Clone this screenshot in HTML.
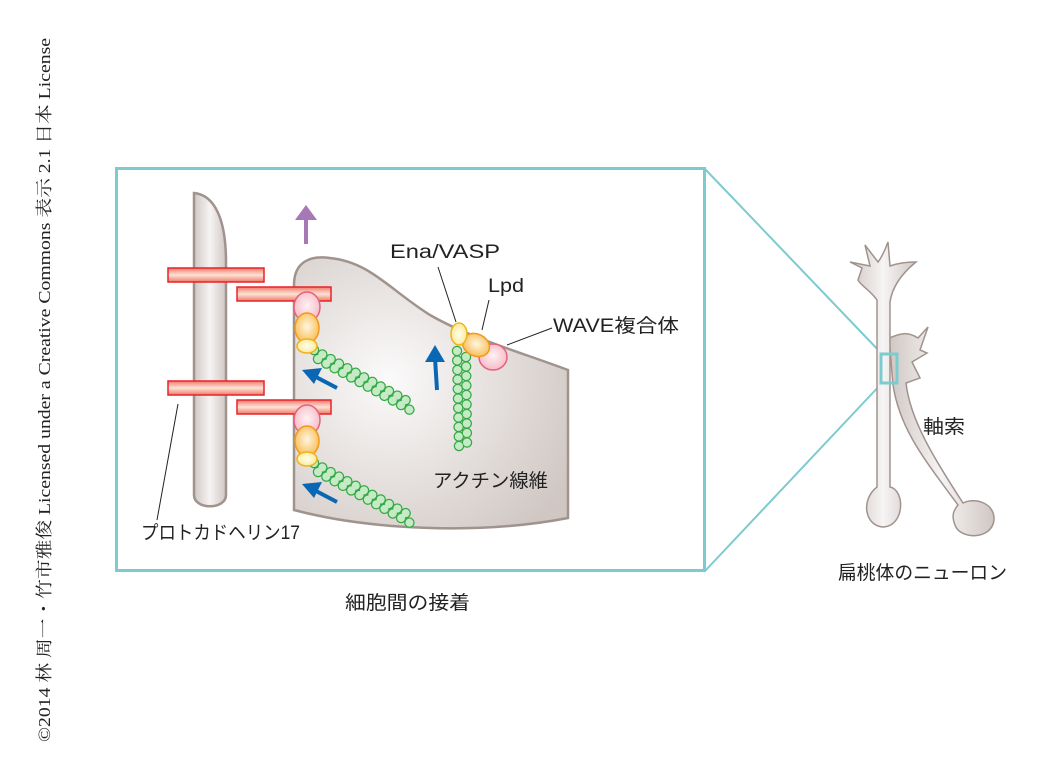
<!DOCTYPE html>
<html><head><meta charset="utf-8"><style>
html,body{margin:0;padding:0;background:#fff;}
svg{display:block;font-family:"Liberation Sans","Noto Sans CJK JP",sans-serif;}
</style></head><body>
<svg width="1044" height="780" viewBox="0 0 1044 780" xmlns="http://www.w3.org/2000/svg">
<defs>
<radialGradient id="cg" cx="0.35" cy="0.45" r="0.75">
<stop offset="0" stop-color="#fbfafa"/><stop offset="1" stop-color="#d0c7c3"/></radialGradient>
<linearGradient id="lg" x1="0" y1="0" x2="1" y2="0">
<stop offset="0" stop-color="#d0c7c3"/><stop offset="0.5" stop-color="#f6f4f4"/><stop offset="1" stop-color="#d0c7c3"/></linearGradient>
<linearGradient id="rb" x1="0" y1="0" x2="0" y2="1">
<stop offset="0" stop-color="#f07a6a"/><stop offset="0.5" stop-color="#fde3d6"/><stop offset="1" stop-color="#ee7a68"/></linearGradient>
<radialGradient id="pk" cx="0.5" cy="0.45" r="0.6"><stop offset="0" stop-color="#fff2f4"/><stop offset="1" stop-color="#f5b6c3"/></radialGradient>
<radialGradient id="or" cx="0.5" cy="0.45" r="0.6"><stop offset="0" stop-color="#fff6e0"/><stop offset="1" stop-color="#f8b94d"/></radialGradient>
<radialGradient id="yl" cx="0.5" cy="0.5" r="0.6"><stop offset="0" stop-color="#fffef0"/><stop offset="1" stop-color="#fbe78a"/></radialGradient>
</defs>

<text transform="translate(50,742) rotate(-90)" font-family="Liberation Serif,'Noto Serif CJK SC',serif" font-size="17" textLength="704" lengthAdjust="spacingAndGlyphs" fill="#222">©2014 林 周一・竹市雅俊 Licensed under a Creative Commons 表示 2.1 日本 License</text>

<!-- zoom lines -->
<line x1="705" y1="169" x2="883" y2="355" stroke="#7ccbcf" stroke-width="2"/>
<line x1="705" y1="571" x2="883" y2="382" stroke="#7ccbcf" stroke-width="2"/>

<!-- left cell -->
<path d="M194,193 C215,195 226,220 226,262 L226,495 C226,510 194,510 194,495 Z" fill="url(#lg)" stroke="#a0938e" stroke-width="2.5"/>
<!-- right cell -->
<path d="M294,510 L294,285 C294,262 310,255 330,258 C370,262 390,290 430,315 C470,338 520,352 568,370 L568,518 C480,535 370,530 294,510 Z" fill="url(#cg)" stroke="#a0938e" stroke-width="2.5"/>

<!-- red bars -->
<rect x="168" y="268" width="96" height="14" fill="url(#rb)" stroke="#e8232a" stroke-width="1.5"/>
<rect x="237" y="287" width="94" height="14" fill="url(#rb)" stroke="#e8232a" stroke-width="1.5"/>
<rect x="168" y="381" width="96" height="14" fill="url(#rb)" stroke="#e8232a" stroke-width="1.5"/>
<rect x="237" y="400" width="94" height="14" fill="url(#rb)" stroke="#e8232a" stroke-width="1.5"/>

<!-- actin filaments -->
<g fill="none" stroke-linecap="round">
<g stroke="#35a845" stroke-width="10.5" stroke-dasharray="0 9.5">
<line x1="314" y1="350" x2="409" y2="402"/><line x1="318" y1="359" x2="410" y2="410"/>
<line x1="314" y1="463" x2="409" y2="515"/><line x1="318" y1="472" x2="410" y2="523"/>
<line x1="457" y1="351" x2="459" y2="446"/><line x1="466" y1="357" x2="467" y2="443"/>
</g>
<g stroke="#c4ebc5" stroke-width="8" stroke-dasharray="0 9.5">
<line x1="314" y1="350" x2="409" y2="402"/><line x1="318" y1="359" x2="410" y2="410"/>
<line x1="314" y1="463" x2="409" y2="515"/><line x1="318" y1="472" x2="410" y2="523"/>
<line x1="457" y1="351" x2="459" y2="446"/><line x1="466" y1="357" x2="467" y2="443"/>
</g>
</g>

<!-- protein blobs -->
<g stroke-width="1.5">
<ellipse cx="307" cy="307" rx="13" ry="15" fill="url(#pk)" stroke="#e5627c"/>
<ellipse cx="307" cy="328" rx="12" ry="15" fill="url(#or)" stroke="#f09a1c"/>
<ellipse cx="307" cy="346" rx="10" ry="7" fill="url(#yl)" stroke="#f0b21c"/>
<ellipse cx="307" cy="420" rx="13" ry="15" fill="url(#pk)" stroke="#e5627c"/>
<ellipse cx="307" cy="441" rx="12" ry="15" fill="url(#or)" stroke="#f09a1c"/>
<ellipse cx="307" cy="459" rx="10" ry="7" fill="url(#yl)" stroke="#f0b21c"/>
<ellipse cx="493" cy="357" rx="14" ry="13" fill="url(#pk)" stroke="#e5627c"/>
<ellipse cx="476" cy="345" rx="14" ry="11" transform="rotate(25 476 345)" fill="url(#or)" stroke="#f09a1c"/>
<ellipse cx="459" cy="334" rx="8" ry="11" fill="url(#yl)" stroke="#f0b21c"/>
</g>

<!-- arrows -->
<g fill="#0a67b4" stroke="#0a67b4">
<line x1="337" y1="388" x2="316" y2="377" stroke-width="4"/>
<polygon points="302,370 322,368 314,384" stroke="none"/>
<line x1="337" y1="502" x2="316" y2="491" stroke-width="4"/>
<polygon points="302,484 322,482 314,498" stroke="none"/>
<line x1="437" y1="390" x2="435" y2="358" stroke-width="4"/>
<polygon points="435,345 445,362 425,362" stroke="none"/>
</g>
<line x1="306" y1="244" x2="306" y2="218" stroke="#a678b5" stroke-width="4"/>
<polygon points="306,205 317,220 295,220" fill="#a678b5"/>

<!-- leaders -->
<g stroke="#222" stroke-width="1" fill="none">
<line x1="438" y1="267" x2="456" y2="322"/>
<line x1="489" y1="300" x2="482" y2="330"/>
<line x1="552" y1="328" x2="507" y2="345"/>
<line x1="178" y1="404" x2="157" y2="520"/>
</g>

<!-- frame -->
<rect x="116.5" y="168.5" width="588" height="402" fill="none" stroke="#7ccbcf" stroke-width="3"/>

<!-- neuron -->
<g fill="url(#lg)" stroke="#a0938e" stroke-width="1.5">
<path d="M889,338 C898,335 905,330 918,338 L928,327 L920,350 L927,353 L912,362 L920,378 L906,383 C910,420 935,460 963,503 C975,497 995,503 994,520 C992,540 960,540 955,525 C951,515 954,510 958,505 C925,460 900,430 893,385 Z"/>
<path d="M877,300 C870,290 860,285 858,280 L862,268 L850,262 L870,266 L865,245 L878,262 C882,257 885,250 888,242 L890,266 C898,263 907,262 916,262 C900,275 892,288 890,302 L890,487 C905,490 905,525 884,527 C865,527 860,500 877,487 Z"/>
</g>
<rect x="881" y="354" width="16" height="29" fill="none" stroke="#7ccbcf" stroke-width="3"/>

<!-- labels -->
<g fill="#222" font-size="19">
<text x="390" y="258" textLength="110" lengthAdjust="spacingAndGlyphs">Ena/VASP</text>
<text x="488" y="292" textLength="36" lengthAdjust="spacingAndGlyphs">Lpd</text>
<text x="553" y="332" textLength="126" lengthAdjust="spacingAndGlyphs">WAVE複合体</text>
<text x="433" y="487" textLength="115" lengthAdjust="spacingAndGlyphs">アクチン線維</text>
<text x="141" y="539" textLength="159" lengthAdjust="spacingAndGlyphs">プロトカドヘリン17</text>
<text x="345" y="609" textLength="125" lengthAdjust="spacingAndGlyphs">細胞間の接着</text>
<text x="923" y="433" textLength="42" lengthAdjust="spacingAndGlyphs">軸索</text>
<text x="838" y="579" textLength="169" lengthAdjust="spacingAndGlyphs">扁桃体のニューロン</text>
</g>
</svg>
</body></html>
